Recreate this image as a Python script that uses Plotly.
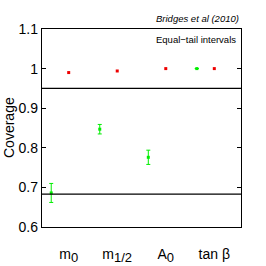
import plotly.graph_objects as go

params = ["m<sub><span style='font-size:13px'>0</span></sub>",
          "m<sub><span style='font-size:13px'>1/2</span></sub>",
          "A<sub><span style='font-size:13px'>0</span></sub>",
          "tan β"]
positions = [1, 2, 3, 4]
green_offset = -0.36

green_cov = [0.686, 0.847, 0.776, 1.0]
green_err = [0.024, 0.012, 0.018, 0.0]
red_cov = [0.990, 0.994, 1.0, 1.0]

ref_levels = [0.95, 0.683]
ytick_vals = [0.6, 0.7, 0.8, 0.9, 1.0, 1.1]
ytick_text = ["0.6", "0.7", "0.8", "0.9", "1", "1.1"]

fig = go.Figure()

for lv in ref_levels:
    fig.add_shape(type="line", xref="paper", x0=0, x1=1, yref="y", y0=lv, y1=lv,
                  line=dict(color="black", width=1.3))

fig.add_trace(go.Scatter(
    x=[p + green_offset for p in positions], y=green_cov,
    mode="markers",
    marker=dict(color="#00ee00", size=3, symbol="square"),
    error_y=dict(type="data", array=green_err, color="#00ee00", thickness=1, width=2),
    showlegend=False))

fig.add_trace(go.Scatter(
    x=positions, y=red_cov, mode="markers",
    marker=dict(color="#ee0000", size=3, symbol="square"),
    showlegend=False))

fig.add_annotation(text="<i>Bridges et al (2010)</i>", xref="paper", yref="paper",
                   x=1.0, y=1.0, xanchor="right", yanchor="bottom", yshift=3,
                   showarrow=False, font=dict(size=9.5, color="black"))
fig.add_annotation(text="Equal−tail intervals", xref="paper", yref="paper",
                   x=0.985, y=0.985, xanchor="right", yanchor="top",
                   showarrow=False, font=dict(size=9.5, color="black"))
fig.add_annotation(text="Coverage", xref="paper", yref="paper",
                   x=0, y=0.5, xanchor="center", yanchor="middle", xshift=-33,
                   textangle=-90, showarrow=False, font=dict(size=14, color="black"))

fig.update_layout(
    width=266, height=266,
    margin=dict(l=42, r=25, t=29, b=39),
    plot_bgcolor="white", paper_bgcolor="white",
    font=dict(family="Liberation Sans, Arial, sans-serif", color="black", size=14),
    xaxis=dict(range=[0.45, 4.55], tickvals=positions, ticktext=params,
               showgrid=False, zeroline=False, showline=True, mirror=True,
               linecolor="black", linewidth=1.3, ticks="", ticklabelstandoff=14,
               tickfont=dict(size=14), automargin=False),
    yaxis=dict(range=[0.6, 1.1], tickvals=ytick_vals, ticktext=ytick_text,
               showgrid=False, zeroline=False, showline=True, mirror="ticks",
               linecolor="black", linewidth=1.3, ticks="inside", ticklen=4,
               tickcolor="black", tickfont=dict(size=14), automargin=False),
)

fig.write_html("out.html", config={"displayModeBar": False},
               post_script="document.body.style.margin='0';")
